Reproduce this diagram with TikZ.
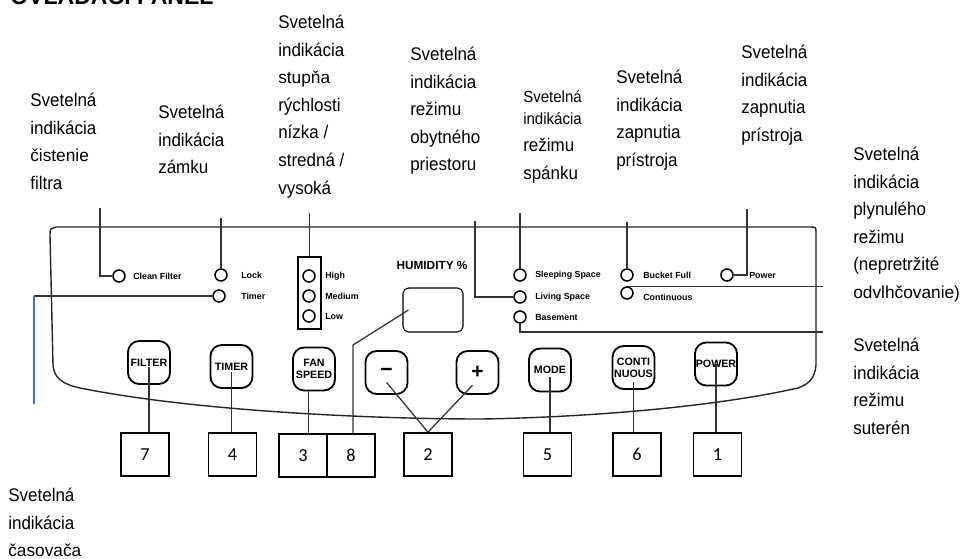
\documentclass[tikz,border=0pt]{standalone}
\usepackage{fontspec}
\setmainfont{Liberation Sans}
\newfontfamily\narrowfont[FakeStretch=0.93]{Liberation Sans}
\newfontfamily\numfont{Carlito}
\newcommand{\wide}[1]{{\normalfont\fontsize{12.3}{19.6}\selectfont #1}}
\definecolor{leadblue}{RGB}{68,114,196}

\begin{document}
\begin{tikzpicture}[x=0.025cm, y=-0.025cm,
	lbl/.style={anchor=north west, inner sep=0pt, align=left, font=\narrowfont\fontsize{13}{19.6}\selectfont},
	led/.style={circle, draw, line width=1.1pt, minimum size=8.5pt, inner sep=0pt},
	ledtext/.style={anchor=west, inner sep=0pt, font=\bfseries\fontsize{6.3}{7}\selectfont},
	btn/.style={draw, line width=1.3pt, rounded corners=8pt, minimum width=29.9pt, minimum height=30.6pt, inner sep=0pt, align=center, font=\bfseries\fontsize{7.6}{8.4}\selectfont},
	numbox/.style={draw, line width=1.1pt, minimum width=34.1pt, minimum height=30.6pt, inner sep=0pt, font=\numfont\fontsize{13}{15}\selectfont},
	leader/.style={line width=0.9pt, black!80},
	panel/.style={line width=1pt, black!85}]
	
	\fill[white] (0,0) rectangle (962,559);
	\useasboundingbox (0,0) rectangle (962,559);
	
	% title
	\node[anchor=base west, inner sep=0pt, font=\bfseries\fontsize{16.4}{18}\selectfont] (title) at (10,5) {OVLÁDACÍ PANEL};
	
	% draw labels
	\node[lbl] (lblfilter) at (30,93) {Svetelná\\indikácia\\\wide{čistenie}\\filtra};
	\node[lbl] (lbllock) at (158,105) {Svetelná\\indikácia\\zámku};
	\node[lbl] (lblfan) at (278,15) {Svetelná\\indikácia\\\wide{stupňa}\\rýchlosti\\nízka /\\stredná /\\vysoká};
	\node[lbl] (lblliving) at (410,47) {Svetelná\\indikácia\\režimu\\obytného\\priestoru};
	\node[lbl] (lblsleep) at (523,90) {{\fontsize{11.5}{15.6}\selectfont Svetelná}\\[-4pt]{\fontsize{11.5}{15.6}\selectfont indikácia}\\režimu\\spánku};
	\node[lbl] (lblbucket) at (616,70) {Svetelná\\indikácia\\zapnutia\\prístroja};
	\node[lbl] (lblpower) at (741,45) {Svetelná\\indikácia\\zapnutia\\prístroja};
	\node[lbl] (lblcont) at (853,147) {Svetelná\\indikácia\\plynulého\\režimu\\(nepretržité\\\wide{odvlhčovanie)}};
	\node[lbl] (lblbase) at (853,338) {Svetelná\\indikácia\\režimu\\suterén};
	\node[lbl] (lbltimer) at (8,488) {Svetelná\\indikácia\\\wide{časovača}};
	
	% draw panel
	\draw[panel] (53,365) -- (50,235) .. controls (50,229) .. (56,227) -- (810,227) .. controls (816,227) .. (816,233) -- (816,365)
		.. controls (815,378) and (809,384) .. (798,388) .. controls (700,410) and (560,418) .. (480,419)
		.. controls (380,419) and (200,412) .. (80,388) .. controls (62,384) and (54,378) .. (53,365);
	
	% leds
	\node[led] (cleanled) at (119,276) {};
	\node[ledtext] (cleantxt) at (133,276) {Clean Filter};
	\node[led] (lockled) at (221,275) {};
	\node[ledtext] (locktxt) at (241,275) {Lock};
	\node[led] (timerled) at (219,296) {};
	\node[ledtext] (timertxt) at (241,296) {Timer};
	\node[draw, line width=1pt, minimum width=16.4pt, minimum height=51.2pt, inner sep=0pt] (fanbox) at (309.5,293) {};
	\node[led] (highled) at (309,276) {};
	\node[ledtext] (hightxt) at (325,276) {High};
	\node[led] (mediumled) at (309,296) {};
	\node[ledtext] (mediumtxt) at (325,296) {Medium};
	\node[led] (lowled) at (309,316) {};
	\node[ledtext] (lowtxt) at (325,316) {Low};
	\node[led] (sleepled) at (520,275) {};
	\node[ledtext] (sleeptxt) at (535,275) {Sleeping Space};
	\node[led] (livingled) at (520,297) {};
	\node[ledtext] (livingtxt) at (535,297) {Living Space};
	\node[led] (baseled) at (520,317) {};
	\node[ledtext] (basetxt) at (535,317) {Basement};
	\node[led] (bucketled) at (627,275) {};
	\node[ledtext] (buckettxt) at (643,275) {Bucket Full};
	\node[led] (contled) at (627,293) {};
	\node[ledtext] (conttxt) at (643,297) {Continuous};
	\node[led] (powerled) at (727,275) {};
	\node[ledtext] (powertxt) at (749,275) {Power};
	
	% humidity display
	\node[inner sep=0pt, font=\bfseries\fontsize{8.4}{9}\selectfont] (humtxt) at (432,265) {HUMIDITY \%};
	\node[draw, line width=0.8pt, rounded corners=4pt, minimum width=42.7pt, minimum height=31.3pt] (display) at (433,310) {};
	
	% buttons
	\node[btn] (filterbtn) at (149,362.5) {FILTER};
	\node[btn] (timerbtn) at (231.5,366.5) {TIMER};
	\node[btn] (fanbtn) at (314,369) {FAN\\SPEED};
	\node[btn, font=\bfseries\fontsize{15}{15}\selectfont] (minusbtn) at (386.5,372.5) {−};
	\node[btn, font=\bfseries\fontsize{15}{15}\selectfont] (plusbtn) at (477.5,372.5) {+};
	\node[btn] (modebtn) at (550,370) {MODE};
	\node[btn] (contbtn) at (633.5,367.5) {CONTI\\NUOUS};
	\node[btn] (powerbtn) at (716,364) {POWER};
	
	% number boxes
	\node[numbox] (b7) at (145,454.5) {7};
	\node[numbox] (b4) at (232.5,454.5) {4};
	\node[numbox] (b3) at (303,455.5) {3};
	\node[numbox] (b8) at (351,455.5) {8};
	\node[numbox] (b2) at (428,454.5) {2};
	\node[numbox] (b5) at (547.5,454.5) {5};
	\node[numbox] (b6) at (637,454.5) {6};
	\node[numbox] (b1) at (717.5,454.5) {1};
	
	% leader lines to the labels
	\coordinate (l1top) at (100,208);
	\coordinate (l2top) at (221,218);
	\coordinate (l3top) at (309.5,213);
	\coordinate (l4top) at (475,221);
	\coordinate (l5top) at (520,213);
	\coordinate (l6top) at (627,222);
	\coordinate (l7top) at (747,209);
	\coordinate (l8end) at (823,285);
	\coordinate (l9end) at (823,332);
	\coordinate (l10corner) at (34,296);
	\coordinate (l10end) at (34,404);
	\draw[leader] (l1top) |- (cleanled.west);
	\draw[leader] (l2top) -- (lockled.north);
	\draw[leader] (l3top) -- (fanbox.north);
	\draw[leader] (l4top) |- (livingled.west);
	\draw[leader] (l5top) -- (sleepled.north);
	\draw[leader] (l6top) -- (bucketled.north);
	\draw[leader] (l7top) |- (powerled.east);
	\draw[leader] (contled.north) -- (contled.north -| l8end);
	\draw[leader] (baseled.south) |- (l9end);
	\draw[leader] (timerled.west) -- (l10corner);
	\draw[line width=1.3pt, leadblue] (l10corner) -- (l10end);
	
	% lines to the number boxes
	\coordinate (l8bend) at (353,345);
	\draw[leader] ([yshift=-3.5pt]filterbtn.center) -- (filterbtn.center |- b7.north);
	\draw[leader] ([yshift=-4pt]timerbtn.center) -- (timerbtn.center |- b4.north);
	\draw[leader] ([xshift=-4pt]fanbtn.south) -- ([xshift=-4pt]fanbtn.south |- b3.north);
	\draw[leader] ([xshift=4.3pt]display.west) -- (l8bend) -- (l8bend |- b8.north);
	\draw[leader] ([yshift=-7pt]minusbtn.center) -- (b2.north);
	\draw[leader] ([shift={(-3.5pt,-9pt)}]plusbtn.center) -- (b2.north);
	\draw[leader] ([yshift=-5pt]modebtn.center) -- (modebtn.center |- b5.north);
	\draw[leader] ([yshift=-10pt]contbtn.center) -- (contbtn.center |- b6.north);
	\draw[leader] (powerbtn.center) -- (powerbtn.center |- b1.north);
\end{tikzpicture}
\end{document}
